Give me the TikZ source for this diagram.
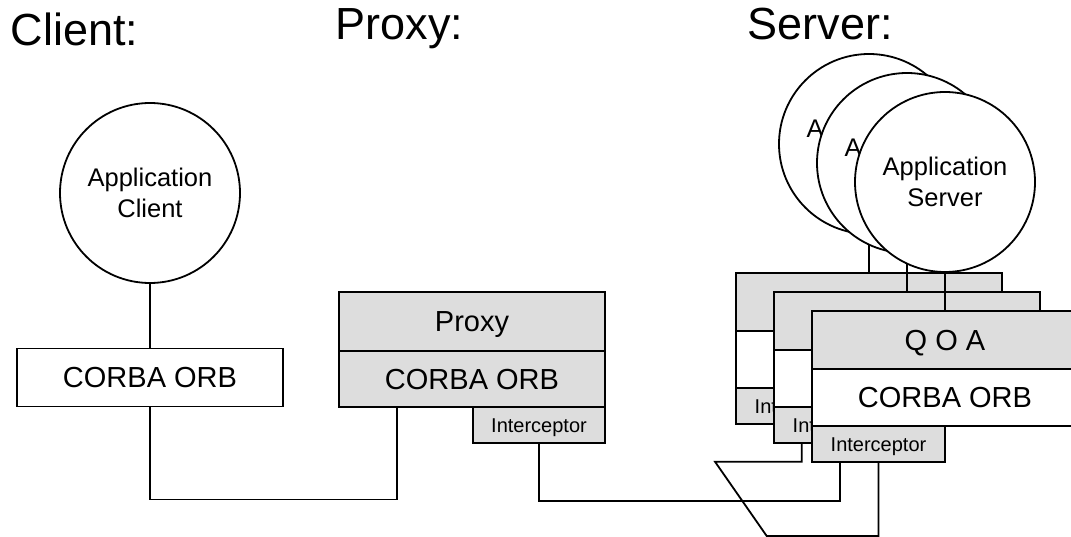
\documentclass[tikz,border=0pt]{standalone}
\usepackage{fontspec}
\setmainfont{Liberation Sans}

\definecolor{layergray}{RGB}{221,221,221}

\tikzset{
  heading/.style={anchor=base west, inner sep=0pt, font=\fontsize{45}{54}\selectfont},
  app/.style={draw, circle, fill=white, minimum size=180pt, inner sep=0pt, align=center,
    font=\fontsize{25.5}{31}\selectfont},
  layer/.style={draw, anchor=north west, minimum width=266pt, inner sep=0pt, outer sep=0pt,
    font=\fontsize{29}{34}\selectfont, text height=20.8pt, text depth=0pt},
  grey layer/.style={layer, fill=layergray},
  interceptor/.style={grey layer, minimum width=133pt, minimum height=36.5pt,
    font=\fontsize{20}{24}\selectfont, text height=14.3pt}
}

\begin{document}
\begin{tikzpicture}[x=1pt, y=-1pt, line width=1.8pt]
\path[use as bounding box, clip] (0,0) rectangle (1071,537);

\node[heading] (hclient) at (10,46) {Client:};
\node[heading] (hproxy) at (335,40) {Proxy:};
\node[heading] (hserver) at (746.7,40) {Server:};

% client
\node[app] (appC) at (150,193) {Application\\Client};
\node[layer, fill=white, minimum height=58pt] (orbC) at (17,348.5) {CORBA ORB};
\draw (appC.south) -- (orbC.north);

% proxy
\node[grey layer, minimum height=58.4pt] (prx) at (339,292.3) {Proxy};
\node[grey layer, minimum height=56pt] (orbP) at (prx.south west) {CORBA ORB};
\node[interceptor, anchor=north east, minimum width=132pt] (intP) at (orbP.south east) {Interceptor};

% server stack, back to front
\foreach \i in {0,1,2} {
  \node[app] (app\i) at ({869+38*\i},{144+19*\i}) {Application\\Server};
  \draw (app\i.south) -- ++(0,40);
  \node[grey layer, minimum height=57.5pt] (qoa\i) at ({736+38*\i},{273.3+19*\i}) {Q O A};
  \node[layer, fill=white, minimum height=57pt] (orb\i) at (qoa\i.south west) {CORBA ORB};
  \node[interceptor] (int\i) at (orb\i.south west) {Interceptor};
}

% wiring
\coordinate (busA) at (397,499.5);
\draw (orbC.south) |- (busA) -- (busA |- orbP.south);
\coordinate (busB) at (840,500.7);
\draw (intP.south) |- (busB) -- (busB |- int2.south);
\coordinate (loopA) at (766.7,536);
\coordinate (loopB) at (715,461.7);
\coordinate (loopC) at (801.7,461.7);
\draw (int2.south) |- (loopA) -- (loopB) -- (loopC) -- (loopC |- int1.south);
\end{tikzpicture}
\end{document}
